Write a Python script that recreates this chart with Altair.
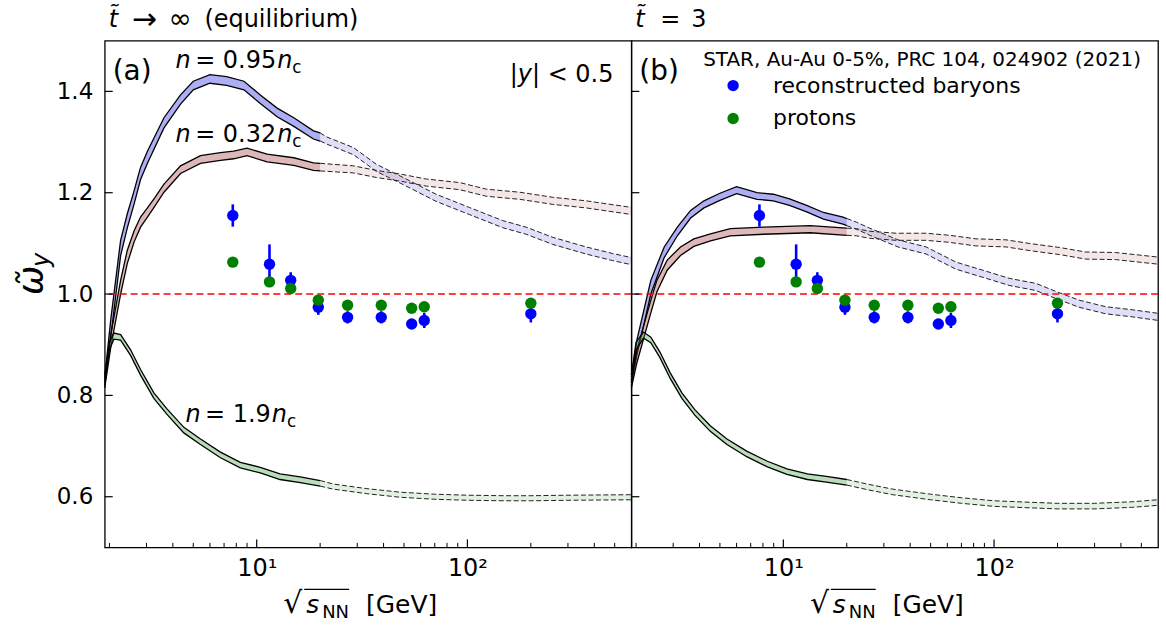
import altair as alt
import pandas as pd

FONT = "DejaVu Sans"
PW, PH = 528, 508

# ---------------- data ----------------
energies = [7.7, 11.5, 14.5, 19.6, 27, 39, 54.4, 62.4, 200]
baryon_w = [1.155, 1.059, 1.027, 0.974, 0.954, 0.954, 0.941, 0.948, 0.961]
baryon_err = [0.022, 0.039, 0.016, 0.015, 0.012, 0.012, 0.007, 0.015, 0.017]
proton_w = [1.063, 1.024, 1.011, 0.988, 0.978, 0.978, 0.972, 0.975, 0.982]
proton_err = [0.003, 0.010, 0.004, 0.004, 0.003, 0.003, 0.003, 0.003, 0.004]
species = ["reconstructed baryons", "protons"]
legend_title = "STAR, Au-Au 0-5%, PRC 104, 024902 (2021)"

# panel (a): t -> infinity
a_blue_x = [1.9, 2.03, 2.26, 2.43, 2.62, 2.81, 3.03, 3.63, 4.35, 5.0, 6.0, 7.2, 8.7, 10.4, 12.5, 15.0, 18.6, 20,
            21.5, 28.8, 37, 49.6, 71, 102, 147, 190, 254, 366, 489, 600]
a_blue_hi = [0.835, 0.95, 1.106, 1.158, 1.204, 1.25, 1.282, 1.348, 1.393, 1.42, 1.433, 1.429, 1.42, 1.393, 1.367,
             1.348, 1.322, 1.318, 1.31, 1.289, 1.256, 1.23, 1.197, 1.171, 1.145, 1.132, 1.112, 1.093, 1.080, 1.072]
a_blue_lo = [0.82, 0.915, 1.076, 1.13, 1.178, 1.226, 1.258, 1.328, 1.375, 1.403, 1.416, 1.412, 1.403, 1.376, 1.350,
             1.331, 1.306, 1.302, 1.296, 1.275, 1.242, 1.216, 1.183, 1.157, 1.131, 1.118, 1.098, 1.079, 1.066, 1.058]

a_red_x = [1.9, 2.03, 2.26, 2.43, 2.62, 2.81, 3.03, 3.28, 3.63, 4.35, 5.41, 6.73, 7.78, 9.0, 11.2, 15.0, 18.6, 20,
           28.8, 37, 47.8, 63.8, 92, 123, 177, 254, 366, 600]
a_red_hi = [0.83, 0.92, 1.027, 1.086, 1.125, 1.152, 1.17, 1.19, 1.217, 1.253, 1.273, 1.279, 1.282, 1.288, 1.276,
            1.269, 1.259, 1.258, 1.253, 1.244, 1.237, 1.227, 1.22, 1.207, 1.201, 1.191, 1.184, 1.171]
a_red_lo = [0.815, 0.895, 1.0, 1.06, 1.103, 1.132, 1.152, 1.173, 1.201, 1.238, 1.258, 1.264, 1.267, 1.273, 1.261,
            1.254, 1.244, 1.243, 1.239, 1.23, 1.223, 1.213, 1.206, 1.193, 1.187, 1.177, 1.170, 1.157]

a_green_x = [1.9, 2.0, 2.1, 2.26, 2.52, 2.81, 3.25, 3.76, 4.51, 5.41, 6.73, 8.36, 10.4, 12.9, 16.1, 20,
             23.1, 33.3, 47.8, 70, 100, 150, 200, 300, 600]
a_green_hi = [0.84, 0.905, 0.923, 0.92, 0.89, 0.851, 0.805, 0.773, 0.737, 0.714, 0.688, 0.668, 0.658, 0.645, 0.639,
              0.632, 0.625, 0.616, 0.609, 0.605, 0.603, 0.602, 0.602, 0.603, 0.604]
a_green_lo = [0.825, 0.89, 0.911, 0.909, 0.879, 0.84, 0.794, 0.762, 0.726, 0.703, 0.677, 0.657, 0.647, 0.634, 0.628,
              0.621, 0.615, 0.606, 0.599, 0.595, 0.593, 0.592, 0.592, 0.593, 0.594]

# panel (b): t = 3
b_blue_x = [1.9, 2.02, 2.35, 2.72, 3.14, 3.63, 4.2, 5.0, 6.0, 7.5, 8.96, 10.7, 12.9, 15.5, 19.2, 20,
            22.2, 25.7, 35, 47.6, 66, 88.5, 118, 158, 197, 253, 339, 453, 600]
b_blue_hi = [0.835, 0.91, 1.027, 1.093, 1.132, 1.165, 1.184, 1.199, 1.212, 1.20, 1.197, 1.188, 1.175, 1.161, 1.152,
             1.149, 1.142, 1.13, 1.107, 1.093, 1.063, 1.047, 1.031, 1.021, 1.005, 0.988, 0.975, 0.969, 0.962]
b_blue_lo = [0.82, 0.88, 1.0, 1.072, 1.115, 1.15, 1.17, 1.185, 1.198, 1.187, 1.184, 1.175, 1.162, 1.148, 1.138,
             1.135, 1.128, 1.116, 1.093, 1.079, 1.049, 1.033, 1.017, 1.007, 0.991, 0.974, 0.961, 0.955, 0.948]

b_red_x = [1.9, 2.02, 2.35, 2.51, 2.81, 3.25, 3.76, 4.51, 5.6, 8.06, 13.4, 20,
           22.2, 25.7, 34.4, 47.6, 61.5, 82, 114, 152, 204, 272, 377, 600]
b_red_hi = [0.83, 0.89, 0.988, 1.027, 1.067, 1.093, 1.109, 1.119, 1.129, 1.132, 1.135, 1.13,
            1.129, 1.124, 1.12, 1.12, 1.116, 1.109, 1.107, 1.099, 1.092, 1.083, 1.082, 1.073]
b_red_lo = [0.815, 0.865, 0.963, 1.004, 1.047, 1.076, 1.094, 1.105, 1.115, 1.118, 1.121, 1.116,
            1.115, 1.11, 1.106, 1.106, 1.102, 1.095, 1.093, 1.085, 1.078, 1.069, 1.068, 1.059]

b_green_x = [1.9, 2.0, 2.17, 2.35, 2.6, 2.9, 3.3, 3.8, 4.5, 5.4, 6.7, 8.4, 10.4, 13, 16, 20,
             25, 33, 50, 70, 100, 150, 200, 300, 450, 600]
b_green_hi = [0.84, 0.905, 0.925, 0.915, 0.885, 0.845, 0.805, 0.772, 0.74, 0.714, 0.69, 0.67, 0.655, 0.645, 0.64,
              0.634, 0.625, 0.615, 0.605, 0.598, 0.592, 0.589, 0.587, 0.587, 0.590, 0.594]
b_green_lo = [0.825, 0.89, 0.913, 0.904, 0.874, 0.834, 0.794, 0.761, 0.729, 0.703, 0.679, 0.659, 0.644, 0.634,
              0.629, 0.623, 0.614, 0.604, 0.594, 0.587, 0.581, 0.578, 0.576, 0.576, 0.579, 0.583]

solid_limit = 20  # model curves drawn solid up to this energy, dashed beyond

x_tick_major = [10, 100]
x_tick_minor = [2, 3, 4, 5, 6, 7, 8, 9, 20, 30, 40, 50, 60, 70, 80, 90, 200, 300, 400, 500]
y_tick_major = [0.6, 0.8, 1.0, 1.2, 1.4]
reference_level = [1.0]

# label positions (data coordinates)
n_labels_a = [("0.95", 4.12, 1.447), ("0.32", 4.12, 1.301), ("1.9", 4.59, 0.748)]

# ---------------- helpers ----------------
EM = {'0': .636, '1': .636, '2': .636, '3': .636, '4': .636, '5': .636, '6': .636, '7': .636, '8': .636,
      '9': .636, '.': .318, ' ': .318, '=': .838, '(': .39, ')': .39, '[': .39, ']': .39, '|': .337,
      '<': .838, 'n': .634, 'c': .55, 'y': .592, 'G': .775, 'e': .615, 'V': .684, 'N': .748, 's': .521}


def tw(s, size):
    return sum(EM.get(ch, 0.6) for ch in s) * size


XS = alt.Scale(type="log", domain=[1.9, 600], nice=False)
YS = alt.Scale(domain=[0.5, 1.5], nice=False, zero=False)
SP_SCALE = alt.Scale(domain=species, range=["#0000ff", "#008000"])
ONE = pd.DataFrame({"k": [0]})

XAXIS = alt.Axis(values=x_tick_major, labelExpr="datum.value == 10 ? '10¹' : '10²'", ticks=False,
                 domain=False, grid=False, title=None, labelFontSize=24, labelFont=FONT,
                 labelColor="black", labelPadding=9, labelFlush=False)
YAXIS_A = alt.Axis(values=y_tick_major, format=".1f", ticks=False, domain=False, grid=False, title=None,
                   labelFontSize=23, labelFont=FONT, labelColor="black", labelPadding=12)


def frag_layers(pieces, x_enc, y_enc, data=ONE, angle=None):
    out = []
    for text, size, italic, dx, dy in pieces:
        kw = dict(text=text, fontSize=size, font=FONT, align="left", baseline="alphabetic",
                  dx=dx, dy=dy, color="black")
        if italic:
            kw["fontStyle"] = "italic"
        if angle is not None:
            kw["angle"] = angle
        out.append(alt.Chart(data).mark_text(**kw).encode(x=x_enc, y=y_enc))
    return out


def n_pieces(val, size=24):
    first = "= " + val
    d1 = 0.82 * size
    d2 = d1 + tw(first, size) + 1
    return [("n", size, True, 0, 0), (first, size, False, d1, 0),
            ("n", size, True, d2, 0), ("c", size * 0.7, False, d2 + 0.634 * size, 5)]


def make_panel(bands, yaxis, title_pieces, corner, extra):
    X = lambda f: alt.X(f, type="quantitative", scale=XS, axis=XAXIS)
    Y = lambda f: alt.Y(f, type="quantitative", scale=YS, axis=yaxis)
    layers = []
    for (xs, his, los, fill, op_s, op_d) in bands:
        df = pd.DataFrame({"x": xs, "hi": his, "lo": los})
        solid = df[df.x <= solid_limit]
        dashed = df[df.x >= solid_limit]
        layers.append(alt.Chart(dashed).mark_area(color=fill, opacity=op_d)
                      .encode(x=X("x"), y=Y("lo"), y2=alt.Y2("hi")))
        layers.append(alt.Chart(solid).mark_area(color=fill, opacity=op_s)
                      .encode(x=X("x"), y=Y("lo"), y2=alt.Y2("hi")))
        for col in ["hi", "lo"]:
            layers.append(alt.Chart(solid).mark_line(color="black", strokeWidth=1.3)
                          .encode(x=X("x"), y=Y(col)))
            layers.append(alt.Chart(dashed).mark_line(color="#222222", strokeWidth=1, strokeDash=[5, 2.5])
                          .encode(x=X("x"), y=Y(col)))
    # reference line
    layers.append(alt.Chart(pd.DataFrame({"y": reference_level}))
                  .mark_rule(color="#ff0000", strokeWidth=1.5, strokeDash=[7, 4]).encode(y=Y("y")))
    # data points
    pts = pd.DataFrame({
        "x": energies + energies,
        "w": baryon_w + proton_w,
        "err": baryon_err + proton_err,
        "species": [species[0]] * len(energies) + [species[1]] * len(energies),
    })
    pts["lo"] = pts["w"] - pts["err"]
    pts["hi"] = pts["w"] + pts["err"]
    layers.append(alt.Chart(pts).mark_rule(strokeWidth=2.6)
                  .encode(x=X("x"), y=Y("lo"), y2=alt.Y2("hi"),
                          color=alt.Color("species:N", scale=SP_SCALE, legend=None)))
    layers.append(alt.Chart(pts).mark_circle(size=130, opacity=1)
                  .encode(x=X("x"), y=Y("w"),
                          color=alt.Color("species:N", scale=SP_SCALE, legend=None)))
    # inward ticks
    layers.append(alt.Chart(pd.DataFrame({"v": x_tick_major})).mark_rule(color="black", strokeWidth=1.2)
                  .encode(x=X("v"), y=alt.value(PH), y2=alt.value(PH - 8)))
    layers.append(alt.Chart(pd.DataFrame({"v": x_tick_minor})).mark_rule(color="black", strokeWidth=1)
                  .encode(x=X("v"), y=alt.value(PH), y2=alt.value(PH - 4.5)))
    layers.append(alt.Chart(pd.DataFrame({"v": y_tick_major})).mark_rule(color="black", strokeWidth=1.2)
                  .encode(y=Y("v"), x=alt.value(0), x2=alt.value(8)))
    # panel title
    layers += frag_layers(title_pieces, alt.value(4), alt.value(-14))
    # corner label
    layers += frag_layers([(corner, 28, False, 0, 0)], alt.value(8), alt.value(39))
    # x axis title: sqrt(s_NN) [GeV]
    x0, base = 179, PH + 66
    layers += frag_layers([("√", 30, False, 0, 0), ("s", 25, True, 23, 0), ("NN", 18, False, 39, 5),
                           ("[GeV]", 25, False, 83, 0)], alt.value(x0), alt.value(base))
    layers.append(alt.Chart(ONE).mark_rule(color="black", strokeWidth=1.3)
                  .encode(x=alt.value(x0 + 21), x2=alt.value(x0 + 66), y=alt.value(base - 24)))
    layers += extra(X, Y)
    return alt.layer(*layers).properties(width=PW, height=PH)


def extra_a(X, Y):
    out = []
    for val, ex, ey in n_labels_a:
        d = pd.DataFrame({"x": [ex], "y": [ey]})
        out += frag_layers(n_pieces(val), X("x"), Y("y"), data=d)
    # |y| < 0.5
    sz = 24
    start = 510 - tw("|y| < 0.5", sz)
    out += frag_layers([("|", sz, False, 0, 0), ("y", sz, True, tw("|", sz), 0),
                        ("| < 0.5", sz, False, tw("|y", sz), 0)], alt.value(start), alt.value(41))
    # y axis title
    out.append(alt.Chart(ONE).mark_text(text="ω\u0303", fontSize=35, fontStyle="italic", angle=270,
                                        align="left", baseline="alphabetic", font=FONT, color="black")
               .encode(x=alt.value(-62), y=alt.value(255)))
    out.append(alt.Chart(ONE).mark_text(text="y", fontSize=24, fontStyle="italic", angle=270,
                                        align="left", baseline="alphabetic", font=FONT, color="black")
               .encode(x=alt.value(-56), y=alt.value(227)))
    return out


def extra_b(X, Y):
    out = []
    # legend: title + one entry per species, colours from the species scale
    out.append(alt.Chart(ONE).mark_text(text=legend_title, fontSize=20, font=FONT, align="left",
                                        baseline="alphabetic", color="black")
               .encode(x=alt.value(72), y=alt.value(25)))
    for i, sp in enumerate(species):
        d = pd.DataFrame({"species": [sp]})
        ypix = 45 + 33 * i
        out.append(alt.Chart(d).mark_circle(size=130, opacity=1)
                   .encode(x=alt.value(102), y=alt.value(ypix),
                           color=alt.Color("species:N", scale=SP_SCALE, legend=None)))
        out.append(alt.Chart(d).mark_text(fontSize=22, font=FONT, align="left", baseline="middle",
                                          color="black")
                   .encode(x=alt.value(142), y=alt.value(ypix), text="species:N"))
    return out


FILL_BLUE, FILL_RED, FILL_GREEN = "#4b4be6", "#b05656", "#3c9e3c"

bands_a = [
    (a_blue_x, a_blue_hi, a_blue_lo, FILL_BLUE, 0.45, 0.18),
    (a_red_x, a_red_hi, a_red_lo, FILL_RED, 0.42, 0.14),
    (a_green_x, a_green_hi, a_green_lo, FILL_GREEN, 0.36, 0.15),
]
bands_b = [
    (b_blue_x, b_blue_hi, b_blue_lo, FILL_BLUE, 0.45, 0.18),
    (b_red_x, b_red_hi, b_red_lo, FILL_RED, 0.42, 0.14),
    (b_green_x, b_green_hi, b_green_lo, FILL_GREEN, 0.36, 0.15),
]

title_a = [("t\u0303", 24, True, 0, 0), ("→", 30, False, 23, 2), ("∞", 28, False, 60, 1),
           ("(equilibrium)", 24, False, 96, 0)]
title_b = [("t\u0303", 24, True, 0, 0), ("=", 24, False, 25, 0), ("3", 24, False, 56, 0)]

panel_a = make_panel(bands_a, YAXIS_A, title_a, "(a)", extra_a)
panel_b = make_panel(bands_b, None, title_b, "(b)", extra_b)

chart = (alt.hconcat(panel_a, panel_b, spacing=0, bounds="flush")
         .properties(padding={"left": 14, "top": 3, "right": 5, "bottom": 5})
         .configure(font=FONT)
         .configure_view(stroke="black", strokeWidth=1.3))

chart.save("out.html", embed_options={"renderer": "svg", "actions": False})
